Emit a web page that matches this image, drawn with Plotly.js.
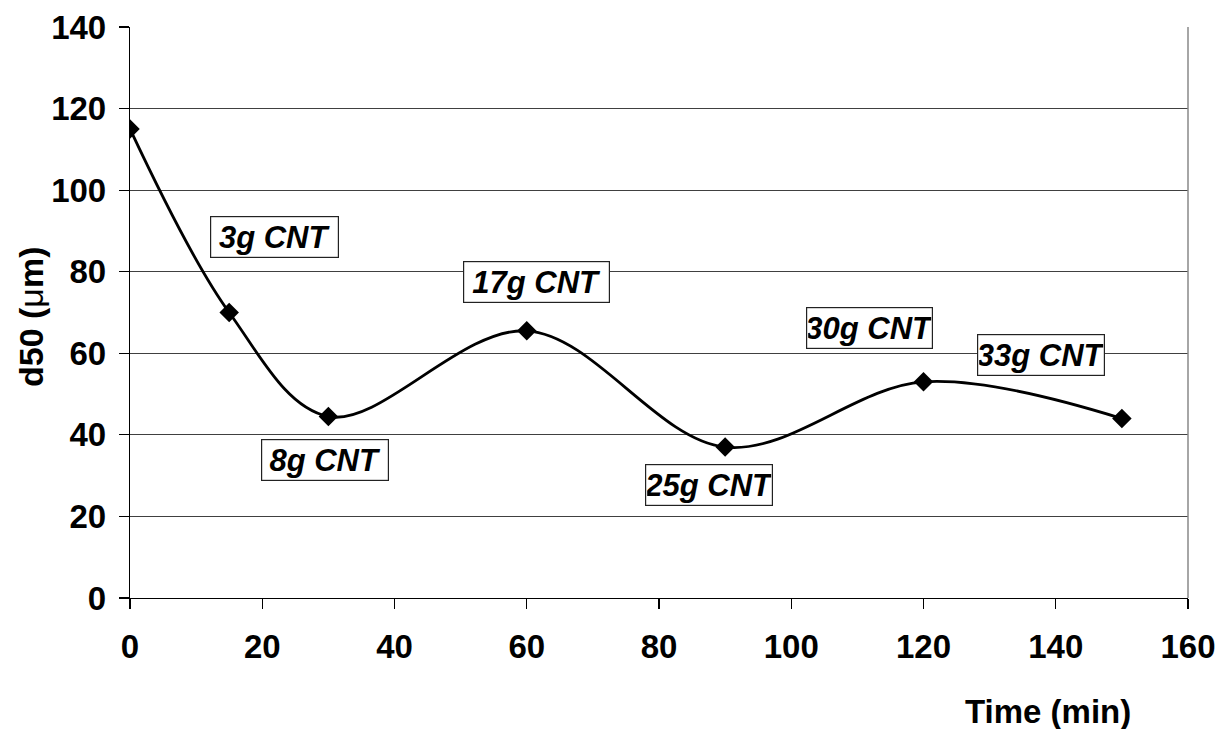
<!DOCTYPE html>
<html>
<head>
<meta charset="utf-8">
<script src="https://cdn.plot.ly/plotly-3.0.1.min.js"></script>
<style>html,body{margin:0;padding:0;background:#fff;}#chart{width:1223px;height:729px;}</style>
</head>
<body>
<div id="chart"></div>
<script>
const timeMin = [0, 15, 30, 60, 90, 120, 150];
const d50 = [115, 70, 44.5, 65.5, 37, 53, 44];
const labelText = ["3g CNT", "8g CNT", "17g CNT", "25g CNT", "30g CNT", "33g CNT"];
const labelX = [21.9, 29.5, 61.4, 87.6, 111.8, 137.8];
const labelY = [88.5, 33.8, 77.5, 27.6, 66.3, 59.6];
const labelW = [125, 124, 143, 124, 123, 124];
const xTicks = [0, 20, 40, 60, 80, 100, 120, 140, 160];
const yTicks = [0, 20, 40, 60, 80, 100, 120, 140];

const FONT = "Liberation Sans, Arial, sans-serif";

const trace = {
  x: timeMin, y: d50, type: 'scatter', mode: 'lines+markers',
  line: {color: '#000', width: 2.8, shape: 'spline', smoothing: 1},
  marker: {symbol: 'diamond', size: 15, color: '#000'},
  hoverinfo: 'x+y', showlegend: false
};

const annotations = labelText.map((t, i) => ({
  x: labelX[i], y: labelY[i], xref: 'x', yref: 'y',
  text: '<b><i>' + t + '</i></b>', showarrow: false,
  font: {family: FONT, size: 31, color: '#000'},
  bgcolor: '#fff', bordercolor: '#222', borderwidth: 1.2,
  width: labelW[i], height: 38, borderpad: 1
}));
annotations.push({
  xref: 'paper', yref: 'paper', x: (1048 - 130) / 1058, y: -(711 - 598) / 571,
  text: '<b>Time (min)</b>', showarrow: false,
  font: {family: FONT, size: 33, color: '#000'}, xanchor: 'center', yanchor: 'middle'
});
annotations.push({
  xref: 'paper', yref: 'paper', x: -(130 - 31) / 1058, y: (598 - 317) / 571,
  text: '<b>d50 (</b><span style="font-weight:normal">μ</span><b>m)</b>', showarrow: false, textangle: -90,
  font: {family: FONT, size: 34, color: '#000'}, xanchor: 'center', yanchor: 'middle'
});

const layout = {
  width: 1223, height: 729,
  margin: {l: 130, r: 35, t: 27, b: 131},
  paper_bgcolor: '#fff', plot_bgcolor: '#fff',
  font: {family: FONT, color: '#000'},
  xaxis: {
    range: [0, 160], tickvals: xTicks, ticktext: xTicks.map(String),
    showgrid: false, zeroline: false, showline: true, linecolor: '#000', linewidth: 1.2,
    ticks: 'outside', ticklen: 10, tickcolor: '#000', tickwidth: 1.2,
    tickfont: {family: FONT, size: 33, color: '#000', weight: 'bold'},
    ticklabelstandoff: 9, fixedrange: true
  },
  yaxis: {
    range: [0, 140], tickvals: yTicks, ticktext: yTicks.map(String),
    showgrid: true, gridcolor: '#404040', gridwidth: 1,
    zeroline: false, showline: true, linecolor: '#000', linewidth: 1.2,
    ticks: 'outside', ticklen: 10, tickcolor: '#000', tickwidth: 1.2,
    tickfont: {family: FONT, size: 33, color: '#000', weight: 'bold'},
    ticklabelstandoff: 6, fixedrange: true
  },
  shapes: [{type: 'line', xref: 'paper', yref: 'paper', x0: 1, x1: 1, y0: 0, y1: 1,
            line: {color: '#888', width: 1.5}}],
  annotations: annotations
};

Plotly.newPlot('chart', [trace], layout, {displayModeBar: false, staticPlot: true});
</script>
</body>
</html>
